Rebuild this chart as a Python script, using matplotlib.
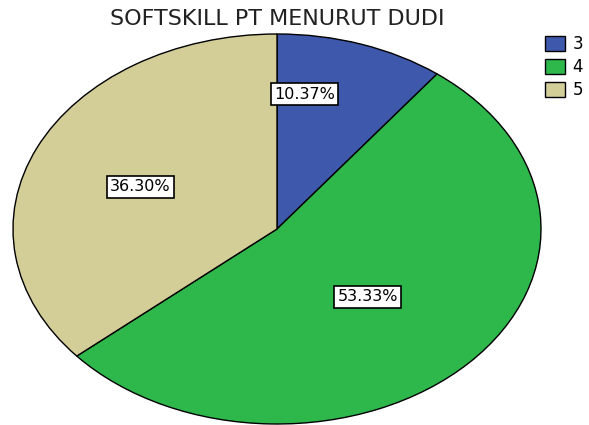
import matplotlib
matplotlib.use("Agg")
import matplotlib.pyplot as plt
import numpy as np

# data
categories = ["3", "4", "5"]
counts = [14, 72, 49]
colors = ["#3e58ab", "#2eb84b", "#d3ce98"]
label_radius = [0.70, 0.49, 0.56]
label_shift = [10, -2, 2]  # degrees, small nudge of label angle

W, H = 589, 425
fig = plt.figure(figsize=(W / 100, H / 100), dpi=100)
ax = fig.add_axes([13 / W, 1 / H, 528 / W, 390 / H])

pcts = np.array(counts) / np.sum(counts) * 100
wedges, _ = ax.pie(counts, colors=colors, startangle=90, counterclock=False,
                   wedgeprops=dict(edgecolor="black", linewidth=1.0))
ax.set_aspect("auto")
ax.set_xlim(-1.0, 1.0)
ax.set_ylim(-1.0, 1.0)

for w, p, r, s in zip(wedges, pcts, label_radius, label_shift):
    mid = np.deg2rad((w.theta1 + w.theta2) / 2 + s)
    ax.text(r * np.cos(mid), r * np.sin(mid), "%.2f%%" % p,
            ha="center", va="center", fontsize=11.5, family="DejaVu Sans",
            bbox=dict(boxstyle="square,pad=0.2", fc="white", ec="black", lw=1.2))

fig.text(277 / W, 1 - 19 / H, "SOFTSKILL PT MENURUT DUDI", ha="center", va="center",
         fontsize=16, color="#222222", family="DejaVu Sans")

leg = fig.legend(wedges, categories, loc="upper left", bbox_to_anchor=(545 / W, 1 - 35 / H),
                 frameon=False, fontsize=12, handlelength=1.2, handleheight=1.0,
                 handletextpad=0.45, labelspacing=0.3, borderpad=0.0, borderaxespad=0.0)

fig.savefig("out.png", dpi=100)
